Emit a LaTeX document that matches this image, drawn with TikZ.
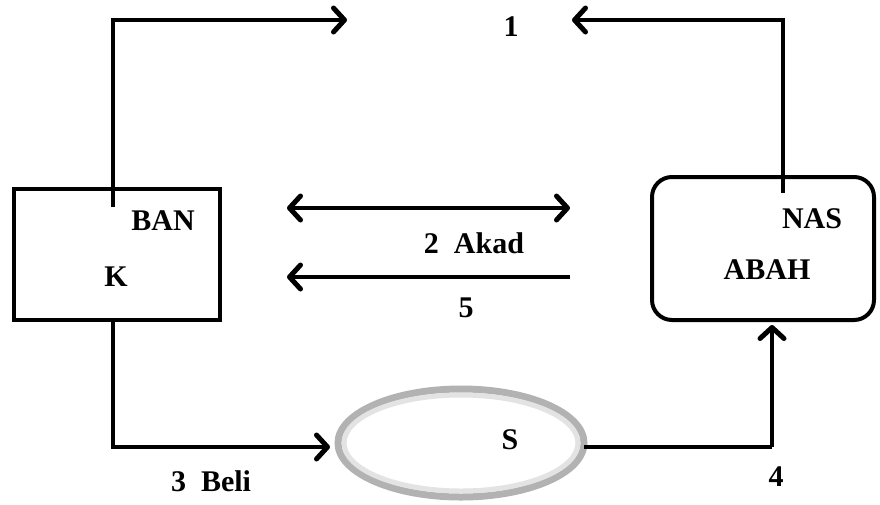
\documentclass[tikz,border=0pt]{standalone}
\usepackage{fontspec}
\setmainfont{Liberation Serif}
\usetikzlibrary{arrows.meta,shapes.geometric}
\begin{document}
\begin{tikzpicture}[x=1pt,y=-1pt,
  conn/.style={line width=4pt},
  tip/.tip={Straight Barb[length=11pt,width=24pt,line width=5pt,round]},
  arr/.style={conn,-tip},
  darr/.style={conn,tip-tip},
  lbl/.style={font=\fontsize{30}{34}\selectfont\bfseries, inner sep=0pt},
  box/.style={draw, line width=4pt, minimum width=206pt, minimum height=131pt, inner sep=0pt}]
\useasboundingbox (0,0) rectangle (880,504);
% boxes
\node[box] (bank) at (117,254.5) {};
\node[box, rounded corners=20pt, minimum width=222pt, minimum height=143pt] (nas) at (763,248.5) {};
\node[ellipse, draw=gray!60, line width=7pt, fill=white, minimum width=246pt, minimum height=108pt, inner sep=0pt] (s) at (461,443) {};
\node[ellipse, draw=gray!22, line width=5pt, minimum width=234pt, minimum height=96pt, inner sep=0pt] (sin) at (461,443) {};
% texts
\node[lbl] (tban) at (163,221) {BAN};
\node[lbl] (tk) at (116,277) {K};
\node[lbl] (tnas) at (812,219) {NAS};
\node[lbl] (tabah) at (767,270) {ABAH};
\node[lbl] (ts) at (510,440) {S};
\node[lbl] (t1) at (511,27) {1};
\node[lbl] (t2) at (474,243) {2\ \ Akad};
\node[lbl] (t5) at (466,308) {5};
\node[lbl] (t3) at (211,481) {3\ \ Beli};
\node[lbl] (t4) at (776,477) {4};
% coordinates
\coordinate (b1) at (113,207);
\coordinate (c1) at (347,20);
\coordinate (n1) at (783,193);
\coordinate (c2) at (572,20);
\coordinate (b2) at (113,322);
\coordinate (c3) at (330,447);
\coordinate (s1) at (584,447);
\coordinate (c4) at (772,447);
\coordinate (n2) at (772,325);
\coordinate (m1) at (287,208);
\coordinate (m2) at (570,208);
\coordinate (m3) at (570,277);
\coordinate (m4) at (287,277);
% connectors
\draw[arr] (b1) |- (c1);
\draw[arr] (n1) |- (c2);
\draw[darr] (m1) -- (m2);
\draw[arr] (m3) -- (m4);
\draw[arr] (b2) |- (c3);
\draw[conn] (s1) -- (c4);
\draw[arr] (c4) -- (n2);
\end{tikzpicture}
\end{document}
